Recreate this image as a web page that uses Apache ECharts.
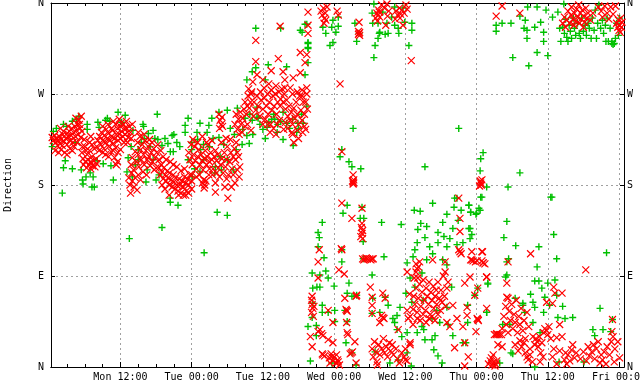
<!DOCTYPE html>
<html>
<head>
<meta charset="utf-8">
<style>html,body{margin:0;padding:0;background:#fff}#chart{width:640px;height:384px}</style>
<script src="https://cdn.jsdelivr.net/npm/echarts@6/dist/echarts.min.js"></script>
</head>
<body>
<div id="chart"></div>
<script>
// hours since Mon 00:00, direction in degrees
const dirLabels = ['N', 'E', 'S', 'W', 'N']
const timeValues = [12, 24, 36, 48, 60, 72, 84, 96]
const timeLabels = ['Mon 12:00', 'Tue 00:00', 'Tue 12:00', 'Wed 00:00', 'Wed 12:00', 'Thu 00:00', 'Thu 12:00', 'Fri 00:00']
const smallTicks = [3, 6, 9, 12, 15, 18, 21, 24, 27, 30, 33, 36, 39, 42, 45, 48, 51, 54, 57, 60, 63, 66, 69, 72, 75, 78, 81, 84, 87, 90, 93, 96]

const greenMon = [[0.7,233],[2.4,240],[3.9,243],[5,248],[6.4,240],[6.4,235],[8.2,242],[9.8,246],[11.6,252],[12.8,249],[8.4,237],[0.5,218],[2.7,204],[2.4,197],[3.9,196],[2.2,172],[5.4,195],[5.6,185],[5.7,181],[6.2,188],[6.9,192],[7.4,188],[7.2,178],[7.6,178],[9.1,201],[10.4,199],[10.8,185],[8.1,204],[4.4,222],[1.2,236],[2.9,238],[4.6,245],[9.5,244],[10.2,243],[12.2,242],[13.3,207],[13.1,193],[14,188],[16.3,183],[16.5,195],[17.5,205],[14.1,234],[15.8,240],[15.9,238],[18.2,250],[17.5,234],[16.7,231],[20.7,229],[18.3,225],[19,219],[20,221],[21.5,222],[20.4,213],[20.9,213],[20.4,167],[20.4,163],[21.7,160],[19,138],[13.5,127],[26.1,113]]
const greenTue = [[23.4,246],[22.9,239],[22.9,232],[25.4,241],[27.4,246],[26.9,239],[26.6,232],[24.9,232],[30,254],[28.6,252],[28.6,227],[30.5,236],[27.6,226],[31.7,256],[33.3,229],[34.3,230],[33.7,221],[36.4,226],[39.4,225],[41.1,219],[38.4,232],[36.7,237],[40,241],[41.9,241],[42.8,241],[43.4,258],[39.4,252],[35,247],[34.2,244],[35.2,246],[35,257],[33.3,284],[34.2,292],[34.8,296],[36.4,284],[36.9,299],[40,297],[34.8,335],[39,335],[42.3,333],[43.1,339],[43.6,321],[43.6,316],[43.6,301],[43.1,289],[24.1,188],[25.4,193],[27.9,192],[31,195],[28.8,208],[23.4,205],[28.3,153],[30,150],[37.5,245],[38.5,240],[37.8,250],[41,245],[42,236],[29.4,220],[31.2,230],[32.6,235],[26,205],[24.5,196]]
const greenTop = [[43.6,320],[43.6,315],[43.4,339],[42.6,331],[46.6,330],[46.1,336],[47.3,318],[47.8,321],[47.8,343],[47.6,336],[48.7,337],[48.3,331],[48.7,346],[51.5,340],[51.8,322],[52.2,330],[54.7,359],[54.4,350],[54.5,340],[55.4,340],[54.9,318],[54.7,306],[55.4,325],[55.7,331],[55.6,330],[56.9,340],[57.1,330],[56.6,329],[56.2,351],[58.2,356],[57.7,346],[58.2,338],[58.8,335],[58.9,330],[59.9,341],[61.1,340],[61.1,333],[60.6,318],[59.6,355],[75.3,338],[75.3,332],[76.3,340],[77.8,340],[78.1,306],[80.8,298],[82.2,311],[84,308],[80.5,325],[80.5,333],[80,335],[80.2,343],[79.3,347],[80.6,356],[82.2,356],[83.7,353],[82.8,341],[81.8,336],[83.3,331],[83.3,322],[84.8,346],[86.2,322],[86,335],[85.7,351],[86.7,359]]
const greenFri = [[86.5,336],[86.8,330],[87,344],[87.2,326],[87.4,322],[87.6,338],[87.8,332],[88,325],[88.3,345],[88.5,335],[88.7,328],[89,340],[89.3,330],[89.5,325],[89.7,345],[90,332],[90.3,338],[90.5,328],[90.8,340],[91,335],[91.3,325],[91.5,345],[91.8,333],[92,353],[92.2,325],[92.4,340],[92.6,358],[92.9,335],[93.2,343],[93.4,330],[93.7,338],[94,345],[94.2,322],[94.5,335],[94.8,320],[95,319],[95.2,320],[95.4,325],[95.6,340],[95.9,328],[96.1,345],[93.8,322],[94.8,322]]
const greenMid = [[51.2,236],[69,236],[49.3,215],[49,208],[50.5,203],[51,198],[52.5,196],[63.3,198],[73.1,212],[72.7,206],[72.6,194],[73.7,178],[77.3,178],[79.3,192],[72.7,168],[68.3,167],[84.5,168],[50.2,160],[49.5,152],[52.7,158],[52.4,147],[53,147],[46,143],[45.3,133],[45.5,128],[45.3,119],[46.3,108],[49.3,116],[49.3,104],[52.9,124],[56,143],[59.3,141],[56.4,109],[52.9,107],[54.4,91]]
const greenWedLow = [[44.3,93],[44.4,78],[45.1,79],[45.6,79],[46.6,95],[45.6,91],[47,88],[48,80],[50.5,83],[50.2,73],[51,70],[51.8,71],[44.4,63],[46,61],[46,54],[47,54],[48.1,56],[49.8,56],[44.3,49],[43.6,40],[45,41],[45,31],[48.1,45],[50.2,45],[50,24],[51,14],[44,6],[47.6,4],[51.7,2],[54.5,68],[54.4,53],[55.7,54],[56.6,69],[57.1,61],[59.1,59],[58.6,51],[57.9,48],[58.2,44],[58.6,37],[59.4,30],[60.3,34],[60.1,73],[54.9,15],[57.4,4],[58.8,7],[60.3,14],[61,1]]
const greenThu = [[61.5,155],[62.5,154],[64.6,162],[67,151],[68.2,158],[68.7,167],[69.4,155],[66.3,143],[68.9,145],[62.6,142],[63.6,139],[62.1,136],[65.5,133],[63.3,128],[66.5,129],[67.5,127],[68,137],[62,123],[61.6,116],[64.1,119],[65.5,123],[67,119],[68.7,121],[64.6,112],[61.3,109],[60.3,103],[63.6,106],[66.3,106],[67,101],[60.8,88],[61.6,79],[62.8,93],[67.8,79],[61.1,64],[63,66],[67,59],[65.3,56],[64.5,48],[62.8,40],[63.1,37],[62,34],[63.3,27],[64.5,27],[65,31],[65.8,44],[67.2,42],[68,31],[64.8,17],[65.5,11],[66.2,4],[69.7,24],[73.9,83],[72.2,78],[71.7,71],[72.6,155],[71.9,151],[71,153],[70.7,160],[69.7,123],[70.9,127],[70.7,137],[70.5,61],[70.5,44],[70.2,24],[73.7,54]]
const greenLate = [[72.9,168],[70.7,160],[72.4,157],[72,152],[71,153],[77.1,144],[84.7,168],[76.6,128],[78.6,120],[85,131],[82.5,119],[71.2,131],[70.9,137],[93.9,113],[85.5,107],[77.4,107],[77.1,104],[82.2,99],[77.1,91],[76.9,89],[81.8,85],[82.5,85],[84,83],[85.2,86],[85.5,71],[83,78],[73.9,82],[81.1,72],[83.5,69],[86.5,60],[78.5,68],[79.8,63],[81.5,64],[84.3,61],[92.8,58],[83.3,54],[88.2,49],[85.7,49],[86.9,48],[94.9,47],[91.6,37],[93.3,37],[91.9,31],[77.6,42],[76.4,42],[81.5,44],[82.7,34],[77.8,14],[78.1,13],[75.9,4],[81.8,0],[85.9,5],[90.1,5],[94.6,35],[73.7,54],[79.8,61],[81.8,59],[80.1,54]]
const greenExtra = [[15,215],[15.5,222],[16,226],[17,218],[17.8,226],[19.5,226],[21,230],[22,218],[18,185],[18.5,190],[15,205],[13.8,218],[14.5,200],[24,222],[25,225],[26,220],[25.5,215],[27,218],[24,215],[28,198],[29,195],[30,205],[31.5,215],[32.5,220],[33,246],[33.8,250],[35.5,240],[37,242],[36,235],[38,245],[39,243],[40.5,236],[41.7,232],[42.5,250]]

const redMon = [[0.5,227],[0.7,224],[0.9,229],[1.1,222],[1.2,226],[1.4,219],[1.5,224],[1.7,228],[1.8,221],[2,215],[2,225],[2.2,219],[2.3,230],[2.5,223],[2.6,212],[2.8,226],[3,220],[3,231],[3.2,228],[3.4,233],[3.5,224],[3.7,229],[3.8,236],[4,222],[4.1,232],[4.3,238],[4.4,228],[4.6,234],[4.8,240],[4.9,230],[5,244],[5.2,236],[5.3,227],[5.5,233],[5.6,218],[3.5,216],[3,210],[5.5,212],[5.7,206],[5.8,200],[6,218],[6.1,203],[6.3,197],[6.4,210],[6.5,205],[6.7,200],[6.8,214],[7,203],[7,196],[7.2,208],[7.3,199],[7.5,204],[7.6,216],[7.7,198],[7.9,206],[8,201],[8,218],[8.2,224],[8.4,214],[8.5,228],[8.7,220],[8.8,232],[9,224],[9.2,216],[9.3,229],[9.5,222],[9.6,235],[9.8,226],[10,231],[10,218],[10.2,224],[10.4,213],[10.5,228],[10.7,234],[10.8,221],[11,226],[11.2,217],[11.3,230],[11.5,236],[11.6,224],[11.8,230],[12,238],[12,226],[12.2,233],[12.4,228],[12.5,240],[12.7,236],[12.8,230],[13,236],[13.2,232],[13.3,227],[13.5,238],[13.7,232],[11,207],[11.3,200],[11.5,203],[12.2,242],[13,243]]
const redMonLate = [[13.4,187],[13.6,180],[13.7,172],[13.9,192],[14,184],[14.3,178],[14.5,187],[14.8,175],[13.8,200],[14,207],[14.2,195],[14.5,213],[14.7,203],[14.9,222],[15,210],[15.1,198],[15.3,228],[15.4,215],[15.5,205],[15.7,220],[15.9,210],[16,200],[16.2,224],[16.3,214],[16.5,205],[16.7,218],[16.8,208],[17,199],[17.2,212],[17.4,203],[17.6,216],[17.8,207],[18,197],[18.1,212],[18.3,220],[18.5,205],[18.5,197],[18.7,190],[18.9,200],[19,193],[19.2,186],[19.3,197],[19.5,190],[19.7,184],[19.9,194],[20,187],[20.2,180],[20.3,192],[20.5,185],[20.7,178],[20.9,190],[21,183],[21.2,176],[21.3,187],[21.5,180],[21.7,174],[21.9,186],[22,180],[22.2,172],[22.4,184],[22.6,178],[22.8,188],[23,182],[23.1,174],[23.3,186],[23.5,180],[23.7,190],[24,184]]
const redTue = [[23.5,212],[23.7,205],[23.9,220],[24.1,200],[24.3,210],[24.5,218],[24.6,204],[24.8,196],[25,208],[25.2,215],[25.4,200],[25.6,210],[25.8,204],[25.9,195],[26.1,206],[26.3,214],[26.5,200],[26.6,208],[26.8,220],[27,203],[27.2,212],[27.4,205],[27.6,196],[27.8,208],[28,214],[28.2,204],[28.4,210],[28.5,197],[28.7,188],[28.9,200],[29.1,206],[29.3,192],[29.5,212],[29.7,198],[29.9,205],[30,218],[30.2,190],[30.4,203],[30.6,212],[30.8,196],[31,208],[31.2,216],[31.4,205],[31.5,222],[31.7,212],[31.9,208],[32.1,198],[29.9,186],[31,190],[31.7,195],[25.8,182],[26,185],[26.2,180],[26.4,184],[26.1,177],[28,182],[28,173],[30.1,167],[28.6,250],[28.8,244],[29,240],[28.7,236],[29.1,247],[29.2,238],[31.3,240],[31.5,250],[31.7,235],[31.9,245],[32,230],[32.2,252],[32.3,240],[32.5,232],[32.6,246],[32.8,255],[33,238],[33,262],[33.2,250],[33.4,258],[33.5,268],[33.7,256],[33.9,262],[34.1,272]]
const redTueLate = [[43.6,351],[38.9,337],[43.6,338],[43.6,330],[34.8,323],[42.3,311],[43.4,309],[38.6,305],[34.8,302],[43.1,301],[37.4,293],[35,289],[36,284],[42.3,291],[39.4,292],[39.7,284],[41.1,286],[34.3,282],[36.2,276],[42.6,274],[43.4,276],[34.5,262],[34.8,254],[35,268],[35.2,258],[35.5,248],[35.7,264],[36,255],[36.2,266],[36.4,245],[36.6,258],[36.9,250],[37.1,262],[37.3,240],[37.5,254],[37.7,268],[37.9,258],[38.1,270],[38.3,250],[38.5,262],[38.7,272],[38.9,258],[39,265],[39.2,275],[39.4,262],[39.6,270],[39.8,255],[40,264],[40.2,248],[40.4,258],[40.6,244],[40.8,252],[41,240],[41.2,256],[41.4,246],[41.6,262],[41.8,250],[42,240],[42.2,268],[42.4,254],[42.6,244],[42.8,262],[43,250],[43.2,235],[43.4,270],[43.5,255],[36.8,240],[37.2,232],[37.8,236],[38.4,240],[38.2,230],[39.5,235],[41.2,222],[42.7,232],[40.9,232]]
const redTop = [[45.8,352],[46,348],[46.2,355],[46.4,345],[46.5,350],[46.8,356],[46.3,340],[46.6,343],[48.7,348],[48.5,352],[52.2,341],[52.1,329],[52.2,330],[52.3,328],[52.3,331],[52.1,332],[55,345],[55.2,350],[55.4,348],[55.5,353],[55.7,346],[55.3,342],[55.6,351],[56,358],[56.9,359],[56.5,355],[57,347],[56.7,338],[57.2,352],[58.4,352],[58.7,348],[59,355],[59.2,349],[59.4,353],[59.1,345],[59.6,338],[60.1,358],[59.8,350],[60.3,354],[58.3,344],[61,303],[49,280],[75.3,347],[76.3,357],[79.3,350],[86.5,340],[86.8,346],[87,336],[87.2,343],[87.4,352],[87.7,340],[87.9,348],[88,356],[88.2,344],[88.4,338],[88.5,350],[88.7,342],[88.9,354],[89,346],[89.2,358],[89.3,340],[89.5,350],[89.6,344],[89.8,353],[90,336],[90,347],[90.2,341],[90.4,355],[90.6,345],[90.8,350],[91.2,343],[91.6,350],[92.5,356],[93,352],[93.2,346],[93.6,357],[94,350],[94.3,344],[94.6,356],[95,349],[95.4,357],[95.6,340],[95.8,336],[95.9,343],[96,333],[96.1,338],[96.2,331],[96.3,345],[96.4,336],[96.5,341]]
const redMid = [[49.3,213],[51.2,190],[51.2,183],[51.1,184],[51.3,182],[51.2,181],[51.3,185],[72.7,182],[72.6,184],[72.8,180],[72.5,179],[72.9,185],[69,167],[49.3,162],[51,147],[52.7,157],[52.7,142],[52.6,138],[52.8,135],[52.7,132],[52.5,129],[52.8,127],[45.5,116],[45.3,104],[49.3,116],[49.2,117],[52.8,107],[53.2,107],[53.6,107],[54,107],[54.4,107],[54.6,107],[53,106],[53.4,108],[54.2,106],[48.8,96],[49.7,92],[45.3,88],[54.1,79]]
const redWed = [[44.2,66],[44.3,62],[44.4,58],[44.2,54],[44.5,50],[44.3,70],[44.6,60],[44,30],[44.3,20],[45.6,37],[45.3,35],[45.9,33],[46.1,31],[47,56],[47,27],[47.8,44],[47.8,24],[46.1,12],[47.6,10],[48.7,5],[46,13],[46.4,11],[47.2,9],[47.5,13],[47.8,6],[48,10],[48.3,4],[48.6,7],[48.9,2],[48.4,12],[47.3,4],[49.8,68],[50.1,56],[50,57],[50.2,55],[50.1,44],[50.3,32],[50.2,34],[50.9,14],[50.7,13],[51.1,15],[51.8,71],[51.7,70],[51.5,25],[51.7,4],[54.4,69],[54.4,61],[54.4,53],[56.2,73],[56.6,68],[56.2,49],[56.4,48],[56,51],[55.7,44],[54.4,18],[54.6,10],[54.8,25],[55,15],[55.2,5],[55.5,22],[55.7,12],[56,18],[56.3,28],[56.5,14],[56.8,20],[57,10],[57.3,24],[57.5,16],[57.8,22],[58,12],[58.4,18],[58.7,8],[59,4],[59.4,14],[59.8,10],[60,18],[60.3,6],[55.3,2],[58.8,37],[60.8,22]]
const redThu = [[61.4,70],[61.6,62],[61.8,78],[62,54],[62.2,68],[62.4,82],[62.6,60],[62.8,74],[63,52],[63,86],[63.2,66],[63.4,56],[63.5,78],[63.7,70],[63.9,62],[64,84],[64.2,52],[64.3,74],[64.5,66],[64.7,80],[64.8,58],[65,70],[65.2,76],[65.3,62],[65.5,84],[65.7,68],[65.9,56],[66,76],[66.2,64],[66.4,90],[66.6,70],[66.8,60],[67,78],[67.2,84],[61.3,57],[60.8,50],[60.5,48],[62,48],[62.5,46],[63.5,44],[64,48],[64.5,50],[65,46],[65.5,52],[61.8,94],[61.5,88],[62.4,104],[61.8,102],[62.2,99],[62,97],[60.7,72],[60.3,56],[66.7,104],[66.7,94],[69.2,114],[69,116],[69.4,112],[69.2,147],[69.2,134],[64.6,106],[60.3,94],[62.1,88],[71.2,106],[73.1,103],[73.7,89],[73,114],[70,83],[68,61],[70.4,51],[70.4,59],[72.2,47],[72.1,48],[72.3,46],[73.7,58],[69.7,40],[71.9,35],[61.3,42],[67,44],[68.7,48],[67.5,40],[68.3,19],[70,24],[70.6,10],[70,1],[60.8,24],[60,7],[75.6,22]]
const redLate = [[71.4,105],[71,106],[71.8,104],[72.1,105],[73.1,103],[72.9,105],[73.4,102],[73.7,89],[72.9,114],[71.2,114],[72.2,78],[71.7,71],[70.9,89],[75,32],[75.3,32],[75.6,32],[75.9,32],[76.2,32],[75.4,33],[74,3],[74.3,6],[74.6,2],[74.9,5],[75.2,3],[74.5,9],[74.8,12],[75.1,1],[75.4,6],[77.1,83],[77.1,69],[81.1,112],[77.3,104],[90.4,96],[85,79],[85.2,73],[86.4,73],[83.8,64],[84.8,63],[76.3,38],[76.6,50],[76.9,60],[77,42],[77.3,34],[77.5,55],[77.7,46],[77.9,62],[78.1,38],[78.3,52],[78.5,44],[78.7,66],[78.9,34],[79.1,50],[79.3,42],[79.5,58],[79.8,36],[80,46],[80.2,28],[80.5,54],[80.8,40],[77.3,68],[76.3,20],[78.5,22],[79,16],[79.6,20],[79.3,26],[80,24],[80.5,10],[80.2,14],[80.7,7],[81,12],[81,18],[81.4,5],[81.8,22],[82,28],[82.2,25],[82.4,20],[82.6,30],[82.8,14],[83,24],[83.3,34],[83.5,38],[83.8,36],[84,32],[84.2,40],[82.7,5],[81.5,30],[83.2,10],[84.5,28],[85,18],[85.5,29],[86,16],[86.4,30],[86,42],[84.8,10],[85.5,3],[86.8,7],[87,14],[87.4,12],[87.7,6],[88,17],[88.2,22],[88.5,9],[88.8,14],[87.2,3],[89.5,8],[90,15],[90.5,6],[90.8,20],[91,11],[91.4,15],[91.7,22],[91.9,8],[92.2,18],[92.5,25],[92.8,4],[93,12],[93.2,7],[93.5,15],[93.8,3],[94,20],[94.4,12],[94.7,25],[95,30],[95.3,18],[95.8,25],[96.1,9],[95.2,5],[94.8,35],[94.9,47]]
const redExtra = [[1,214],[1.6,212],[2.4,233],[1.9,236],[3.2,238],[3.9,214],[4.2,218],[4.7,222],[5.1,240],[4.5,246],[5.4,248],[6.2,214],[6.8,222],[7.2,220],[5.9,225],[7,228],[9,212],[9.5,210],[10,208],[10.5,236],[9,238],[9.9,240],[11.2,240],[11.8,245],[10.8,243],[13.8,226],[14,240],[13.2,222],[12.6,222],[12,215],[11.6,212],[10.8,214],[15,190],[15.4,185],[15.8,193],[16.4,190],[16.9,225],[17.3,222],[17.7,195],[16,230],[15,232],[18.8,214],[19.2,208],[19.7,205],[20.4,203],[20.9,200],[21.5,198],[19,180],[19.5,176],[20.2,170],[21.8,170],[22.6,170],[23,170],[22.8,196],[22.2,194],[23.5,172],[24,176],[24.2,225],[25,222],[25.8,228],[26.5,222],[27.4,224],[24,190],[24.8,188],[27,196],[27.5,190],[29,222],[29.8,226],[30.5,225],[28.2,192],[29.6,178],[30.7,178],[31.3,182],[32,188],[26.9,190],[25.3,190],[33.6,275],[34,270],[34.4,248],[33.4,240],[34,234],[35.6,272],[36.8,270],[37.4,274],[38.2,278],[39.7,276],[40.6,276],[41,270],[41.8,272],[42.6,268],[43.2,262],[40.2,236],[41,230],[42,226],[43,238],[41.8,234],[36,240],[38.8,244],[39.8,242],[37,280]]

const greenPoints = [].concat(greenMon, greenTue, greenTop, greenFri, greenMid, greenWedLow, greenThu, greenLate, greenExtra)
const redPoints = [].concat(redMon, redMonLate, redTue, redTueLate, redTop, redMid, redWed, redThu, redLate, redExtra)

const font = { fontFamily: 'DejaVu Sans Mono', fontSize: 10, color: '#000' }
const blackLine = { show: true, onZero: false, lineStyle: { color: '#000', width: 1 } }

function scatter(name, symbol, color, width, data) {
  return {
    name: name,
    type: 'scatter',
    data: data,
    symbol: symbol,
    symbolSize: 7,
    clip: true,
    silent: true,
    itemStyle: { color: 'transparent', borderColor: color, borderWidth: width, opacity: 1 }
  }
}

function tickAxis(position) {
  return {
    type: 'value', position: position, min: 0.3, max: 96.84,
    axisLine: blackLine,
    axisTick: { show: true, inside: true, length: 3, customValues: smallTicks, lineStyle: { color: '#000' } },
    axisLabel: { show: false },
    splitLine: { show: false }
  }
}

const chart = echarts.init(document.getElementById('chart'), null, { renderer: 'canvas' })
chart.setOption({
  animation: false,
  backgroundColor: '#fff',
  grid: { left: 51, top: 3, width: 573, height: 364, containLabel: false, outerBoundsMode: 'none' },
  xAxis: [
    {
      type: 'value', position: 'bottom', min: 0.3, max: 96.84,
      axisLine: blackLine,
      axisTick: { show: true, inside: true, length: 5, customValues: timeValues, lineStyle: { color: '#000' } },
      axisLabel: {
        show: true, margin: 5, hideOverlap: false, customValues: timeValues,
        fontFamily: font.fontFamily, fontSize: font.fontSize, color: font.color,
        formatter: function (v) { return timeLabels[timeValues.indexOf(v)] }
      },
      splitLine: { show: true, lineStyle: { color: '#a0a0a0', type: [2, 3], width: 1 } }
    },
    tickAxis('bottom'),
    tickAxis('top')
  ],
  yAxis: [
    {
      type: 'value', position: 'left', min: 0, max: 360, interval: 90,
      name: 'Direction', nameLocation: 'middle', nameGap: 38,
      nameTextStyle: font,
      axisLine: blackLine,
      axisTick: { show: true, inside: true, length: 4, lineStyle: { color: '#000' } },
      axisLabel: {
        margin: 7, fontFamily: font.fontFamily, fontSize: font.fontSize, color: font.color,
        formatter: function (v) { return dirLabels[v / 90] }
      },
      splitLine: { show: true, lineStyle: { color: '#a0a0a0', type: [2, 3], width: 1 } }
    },
    {
      type: 'value', position: 'right', min: 0, max: 360, interval: 90,
      axisLine: blackLine,
      axisTick: { show: true, inside: true, length: 4, lineStyle: { color: '#000' } },
      axisLabel: {
        margin: 3, fontFamily: font.fontFamily, fontSize: font.fontSize, color: font.color,
        formatter: function (v) { return dirLabels[v / 90] }
      },
      splitLine: { show: false }
    }
  ],
  series: [
    scatter('gust', 'path://M0 5H10M5 0V10', '#00c000', 1.4, greenPoints),
    scatter('mean', 'path://M0 0L10 10M10 0L0 10', '#ff0000', 1.2, redPoints)
  ]
})
</script>
</body>
</html>
